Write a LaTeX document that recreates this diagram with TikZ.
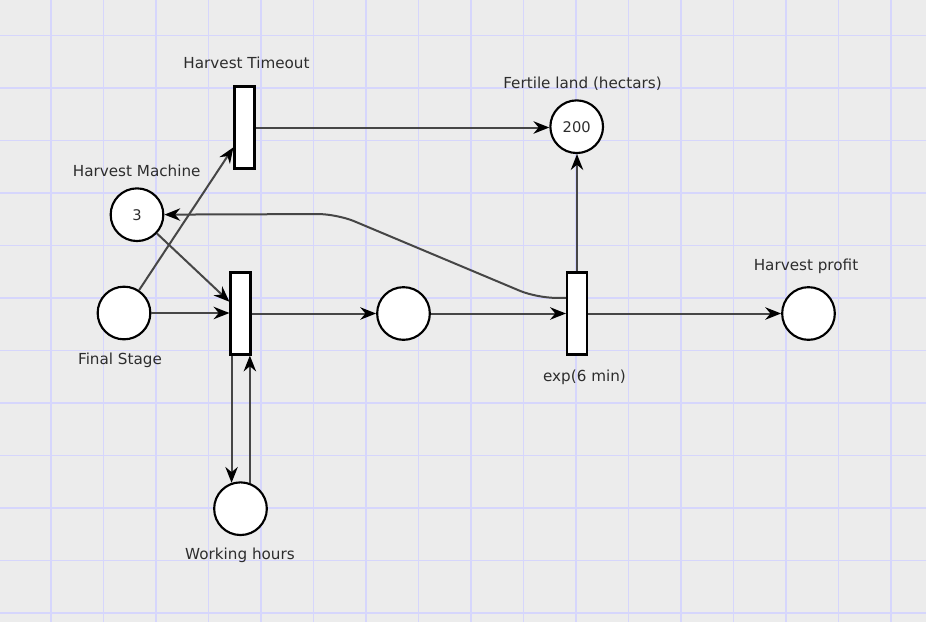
\documentclass[tikz,border=0pt]{standalone}
\usepackage{fontspec}
\setmainfont{DejaVu Sans}
\usetikzlibrary{arrows.meta,calc}
\definecolor{bgc}{RGB}{236,236,236}
\definecolor{gridc}{RGB}{214,214,252}
\definecolor{arcc}{RGB}{70,70,70}
\definecolor{txtc}{RGB}{45,45,45}
\tikzset{
  place/.style={circle,draw=black,fill=white,line width=1.6pt,minimum size=39.5pt,inner sep=0pt,font=\fontsize{11pt}{13pt}\selectfont,text=txtc},
  trans/.style={rectangle,draw=black,fill=white,line width=1.6pt,minimum width=15pt,minimum height=61.5pt,inner sep=0pt},
  lbl/.style={font=\fontsize{11.4pt}{13pt}\selectfont,text=txtc,inner sep=0pt},
  arc/.style={draw=arcc,line width=1.5pt,-{Stealth[length=12pt,width=9.5pt,inset=4pt,color=black,line width=0pt]}},
}
\begin{document}
\begin{tikzpicture}[x=0.75pt,y=-0.75pt]
\fill[bgc] (0,0) rectangle (926,622);
\useasboundingbox (0,0) rectangle (926,622);
\foreach \k in {0,...,16} {\draw[gridc,line width=1.1pt] ({51+52.5*\k},0) -- ({51+52.5*\k},622);}
\foreach \k in {0,...,11} {\draw[gridc,line width=1.1pt] (0,{35.7+52.5*\k}) -- (926,{35.7+52.5*\k});}

% places
\node[place] (hm) at (137,214.7) {3};
\node[place] (fs) at (124,313) {};
\node[place] (mid) at (403.5,313.5) {};
\node[place] (fl) at (576.7,126.7) {200};
\node[place] (hp) at (808.5,313.5) {};
\node[place] (wh) at (240.5,508.7) {};
% transitions
\node[trans] (ht) at (244.5,127.5) {};
\node[trans] (t2) at (240.5,313.5) {};
\node[trans] (exp) at (577,313.5) {};
% labels
\node[lbl] (lht) at (246.5,63) {Harvest Timeout};
\node[lbl] (lhm) at (136.7,171) {Harvest Machine};
\node[lbl] (lfs) at (120,360.5) {Final Stage};
\node[lbl] (lfl) at (582.5,83.5) {Fertile land (hectars)};
\node[lbl] (lhp) at (806,266) {Harvest profit};
\node[lbl] (lexp) at (584.5,377) {exp(6 min)};
\node[lbl] (lwh) at (240,555.5) {Working hours};

% arcs
\draw[arc] (fs) -- ($(ht.south west)!0.265!(ht.north west)$);
\draw[arc] (hm) -- ($(t2.south west)!0.64!(t2.north west)$);
\draw[arc] (fs) -- (fs -| t2.west);
\draw[arc] (t2.east) -- (mid);
\draw[arc] (mid) -- (exp.west);
\draw[arc] (exp.east) -- (hp);
\draw[arc] (exp.north) -- (exp.north |- fl.south);
\draw[arc] (ht.east) -- (ht.east -| fl.west);
\draw[arc,rounded corners=14pt] ($(exp.south west)!0.687!(exp.north west)$) -- (537,298) -- (337,214) -- (hm);
\draw[arc] (t2.south -| wh.109.4) -- (wh.109.4);
\draw[arc] (wh.70.6) -- (wh.70.6 |- t2.south);
\end{tikzpicture}
\end{document}
